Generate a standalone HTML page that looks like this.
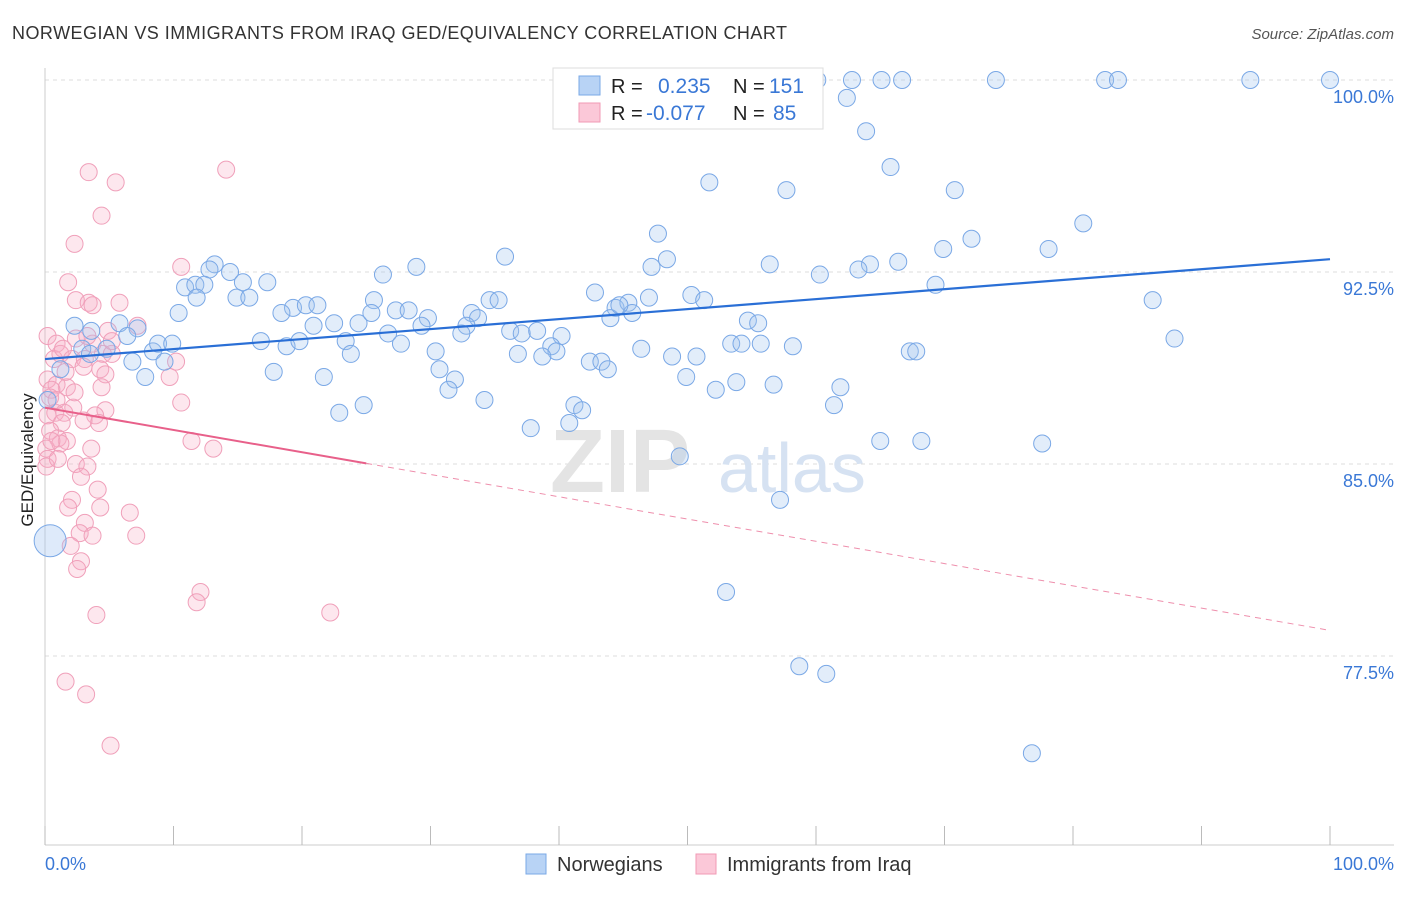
<!DOCTYPE html>
<html><head><meta charset="utf-8"><style>
body{margin:0;background:#fff;font-family:"Liberation Sans",sans-serif;}
svg text{font-family:"Liberation Sans",sans-serif;}
</style></head><body>
<svg id="chart" width="1406" height="892">
<text x="12" y="39" font-size="18" fill="#333" textLength="775">NORWEGIAN VS IMMIGRANTS FROM IRAQ GED/EQUIVALENCY CORRELATION CHART</text>
<text x="1394" y="39" font-size="15" fill="#555" font-style="italic" text-anchor="end">Source: ZipAtlas.com</text>
<text x="33" y="460" font-size="17" fill="#222" text-anchor="middle" transform="rotate(-90 33 460)">GED/Equivalency</text>
<g id="grid"></g>
<g id="ticks"></g>
<text x="550" y="492" font-size="90" fill="#e4e4e4" font-family="Liberation Serif" font-weight="bold">ZIP</text>
<text x="718" y="492" font-size="70" fill="#d6e2f2">atlas</text>
<g id="marks"></g>
<g id="trends"></g>
<g>
<rect x="553" y="68" width="270" height="61" fill="#fff" stroke="#ddd"/>
<rect x="579" y="76" width="21" height="19" fill="#b8d3f5" stroke="#7aa8e6"/>
<rect x="579" y="103" width="21" height="19" fill="#fbc8d8" stroke="#f09ab5"/>
<text x="611" y="93" font-size="20" fill="#222">R =</text>
<text x="658" y="93" font-size="21" fill="#3a78d6">0.235</text>
<text x="733" y="93" font-size="20" fill="#222">N =</text>
<text x="769" y="93" font-size="21" fill="#3a78d6">151</text>
<text x="611" y="120" font-size="20" fill="#222">R =</text>
<text x="646" y="120" font-size="21" fill="#3a78d6">-0.077</text>
<text x="733" y="120" font-size="20" fill="#222">N =</text>
<text x="773" y="120" font-size="21" fill="#3a78d6">85</text>
</g>
<g>
<rect x="526" y="854" width="20" height="20" fill="#b8d3f5" stroke="#7aa8e6"/>
<text x="557" y="871" font-size="20" fill="#333">Norwegians</text>
<rect x="696" y="854" width="20" height="20" fill="#fbc8d8" stroke="#f09ab5"/>
<text x="727" y="871" font-size="20" fill="#333">Immigrants from Iraq</text>
</g>
</svg>
<script>
const blueX=[60.1,62.8,65.1,66.7,74.0,82.5,83.5,93.8,100,62.4,63.9,65.8,51.7,57.7,70.8,80.8,47.7,72.1,69.9,78.1,35.8,48.4,47.2,56.4,66.4,64.2,63.3,60.3,28.9,26.3,13.2,12.8,14.4,10.9,11.7,12.4,15.4,17.3,11.8,14.9,15.9,10.4,3.6,2.3,5.8,7.2,6.4,4.8,2.9,3.5,8.4,8.8,9.9,9.3,6.8,7.8,1.2,0.2,19.3,20.3,21.2,18.4,25.6,27.3,28.3,29.8,33.2,33.7,34.6,35.3,42.8,44.4,45.4,45.7,47.0,50.3,51.3,54.7,55.5,69.3,86.2,87.9,22.5,24.4,25.4,20.9,16.8,18.8,19.8,23.4,26.7,27.7,29.3,32.8,32.4,36.2,37.1,38.3,40.2,39.4,39.8,36.8,38.7,30.4,23.8,17.8,21.7,30.7,31.9,31.4,34.2,42.4,43.3,43.8,46.4,48.8,50.7,53.4,54.2,55.7,58.2,67.3,67.8,49.9,52.2,53.8,56.7,61.9,61.4,24.8,22.9,41.2,41.8,40.8,37.8,65.0,68.2,77.6,49.4,57.2,53.0,58.7,60.8,76.8,44.0,44.7];
const blueY=[100,100,100,100,100,100,100,100,100,99.3,98.0,96.6,96.0,95.7,95.7,94.4,94.0,93.8,93.4,93.4,93.1,93.0,92.7,92.8,92.9,92.8,92.6,92.4,92.7,92.4,92.8,92.6,92.5,91.9,92.0,92.0,92.1,92.1,91.5,91.5,91.5,90.9,90.2,90.4,90.5,90.3,90.0,89.5,89.5,89.3,89.4,89.7,89.7,89.0,89.0,88.4,88.7,87.5,91.1,91.2,91.2,90.9,91.4,91.0,91.0,90.7,90.9,90.7,91.4,91.4,91.7,91.1,91.3,90.9,91.5,91.6,91.4,90.6,90.5,92.0,91.4,89.9,90.5,90.5,90.9,90.4,89.8,89.6,89.8,89.8,90.1,89.7,90.4,90.4,90.1,90.2,90.1,90.2,90.0,89.6,89.4,89.3,89.2,89.4,89.3,88.6,88.4,88.7,88.3,87.9,87.5,89.0,89.0,88.7,89.5,89.2,89.2,89.7,89.7,89.7,89.6,89.4,89.4,88.4,87.9,88.2,88.1,88.0,87.3,87.3,87.0,87.3,87.1,86.6,86.4,85.9,85.9,85.8,85.3,83.6,80.0,77.1,76.8,73.7,90.7,91.2];
const bigX=[0.4], bigY=[82.0];
const pinkX=[3.4,5.5,14.1,4.4,2.3,10.6,1.8,2.4,3.4,3.7,5.8,0.2,0.9,2.4,3.7,4.9,7.2,0.7,1.2,2.1,3.1,4.5,5.2,3.0,4.3,4.7,10.2,9.7,0.2,0.9,1.7,0.5,4.4,10.6,0.2,0.8,1.5,2.2,4.7,3.9,1.3,4.2,0.4,1.0,1.7,0.1,1.2,3.6,11.4,13.1,0.2,2.4,3.3,2.8,2.1,4.1,1.8,4.3,6.6,3.1,2.7,3.7,7.1,2.0,2.8,2.5,12.1,11.8,4.0,22.2,1.6,3.2,5.1,0.1,0.4,0.9,1.4,3.3,5.2,1.6,1.0,0.5,2.3,3.0];
const pinkY=[96.4,96.0,96.5,94.7,93.6,92.7,92.1,91.4,91.3,91.2,91.3,90.0,89.7,89.9,89.7,90.2,90.4,89.1,89.3,89.1,89.1,89.3,89.3,88.8,88.7,88.5,89.0,88.4,88.3,88.1,88.0,87.9,88.0,87.4,86.9,87.0,87.0,87.2,87.1,86.9,86.6,86.6,86.3,86.0,85.9,85.6,85.8,85.6,85.9,85.6,85.2,85.0,84.9,84.5,83.6,84.0,83.3,83.3,83.1,82.7,82.3,82.2,82.2,81.8,81.2,80.9,80.0,79.6,79.1,79.2,76.5,76.0,74.0,84.9,87.6,87.5,89.5,90.0,89.8,88.6,85.2,85.9,87.8,86.7];
const blueTrend=[89.1,93.0]; // y at x=0, x=100
const pinkTrend=[87.2,78.5];
const yTicks=[100,92.5,85,77.5];
const yTickLabels=["100.0%","92.5%","85.0%","77.5%"];
const xTickVals=[0,10,20,30,40,50,60,70,80,90,100];
const NS="http://www.w3.org/2000/svg";
const X=v=>45+v*12.85, Y=v=>80+(100-v)*25.6;
function mk(t,a,p){const e=document.createElementNS(NS,t);for(const k in a)e.setAttribute(k,a[k]);p.appendChild(e);return e;}
const grid=document.getElementById('grid'),ticks=document.getElementById('ticks'),marks=document.getElementById('marks'),trends=document.getElementById('trends');
yTicks.forEach((v,i)=>{
 const l=mk('line',{x1:45,x2:1394,y1:Y(v),y2:Y(v),stroke:'#ddd','stroke-dasharray':'4,4'},grid);
 
 
 const t=mk('text',{x:1394,y:Y(v)+23,'font-size':18,fill:'#3a78d6','text-anchor':'end'},ticks);
 t.textContent=yTickLabels[i];
 
 
});
mk('line',{x1:45,x2:45,y1:68,y2:845,stroke:'#ccc'},ticks);
mk('line',{x1:45,x2:1394,y1:845,y2:845,stroke:'#ccc'},ticks);
xTickVals.forEach(v=>{const l=mk('line',{x1:X(v),x2:X(v),y1:826,y2:845,stroke:'#bbb'},ticks);
 
 });
let t0=mk('text',{x:45,y:870,'font-size':18,fill:'#3a78d6'},ticks);t0.textContent='0.0%';


let t1=mk('text',{x:1394,y:870,'font-size':18,fill:'#3a78d6','text-anchor':'end'},ticks);t1.textContent='100.0%';


pinkX.forEach((x,i)=>{const c=mk('circle',{cx:X(x),cy:Y(pinkY[i]),r:8.5,fill:'rgba(248,176,200,0.3)',stroke:'#f0a0ba','stroke-width':1},marks);
 
 });
blueX.forEach((x,i)=>{const c=mk('circle',{cx:X(x),cy:Y(blueY[i]),r:8.5,fill:'rgba(160,195,240,0.3)',stroke:'#7aa8e6','stroke-width':1},marks);
 
 });
bigX.forEach((x,i)=>{const c=mk('circle',{cx:X(x),cy:Y(bigY[i]),r:16,fill:'rgba(160,195,240,0.35)',stroke:'#7aa8e6','stroke-width':1},marks);
 
 });
const bl=mk('line',{x1:X(0),y1:Y(blueTrend[0]),x2:X(100),y2:Y(blueTrend[1]),stroke:'#2a6fd6','stroke-width':2.2},trends);


const py=x=>pinkTrend[0]+(pinkTrend[1]-pinkTrend[0])*x/100;
const pl=mk('line',{x1:X(0),y1:Y(py(0)),x2:X(25),y2:Y(py(25)),stroke:'#e8608a','stroke-width':2},trends);


const pd=mk('line',{x1:X(25),y1:Y(py(25)),x2:X(100),y2:Y(py(100)),stroke:'#e8608a','stroke-width':1,'stroke-dasharray':'6,5','opacity':0.7},trends);


</script>
</body></html>
